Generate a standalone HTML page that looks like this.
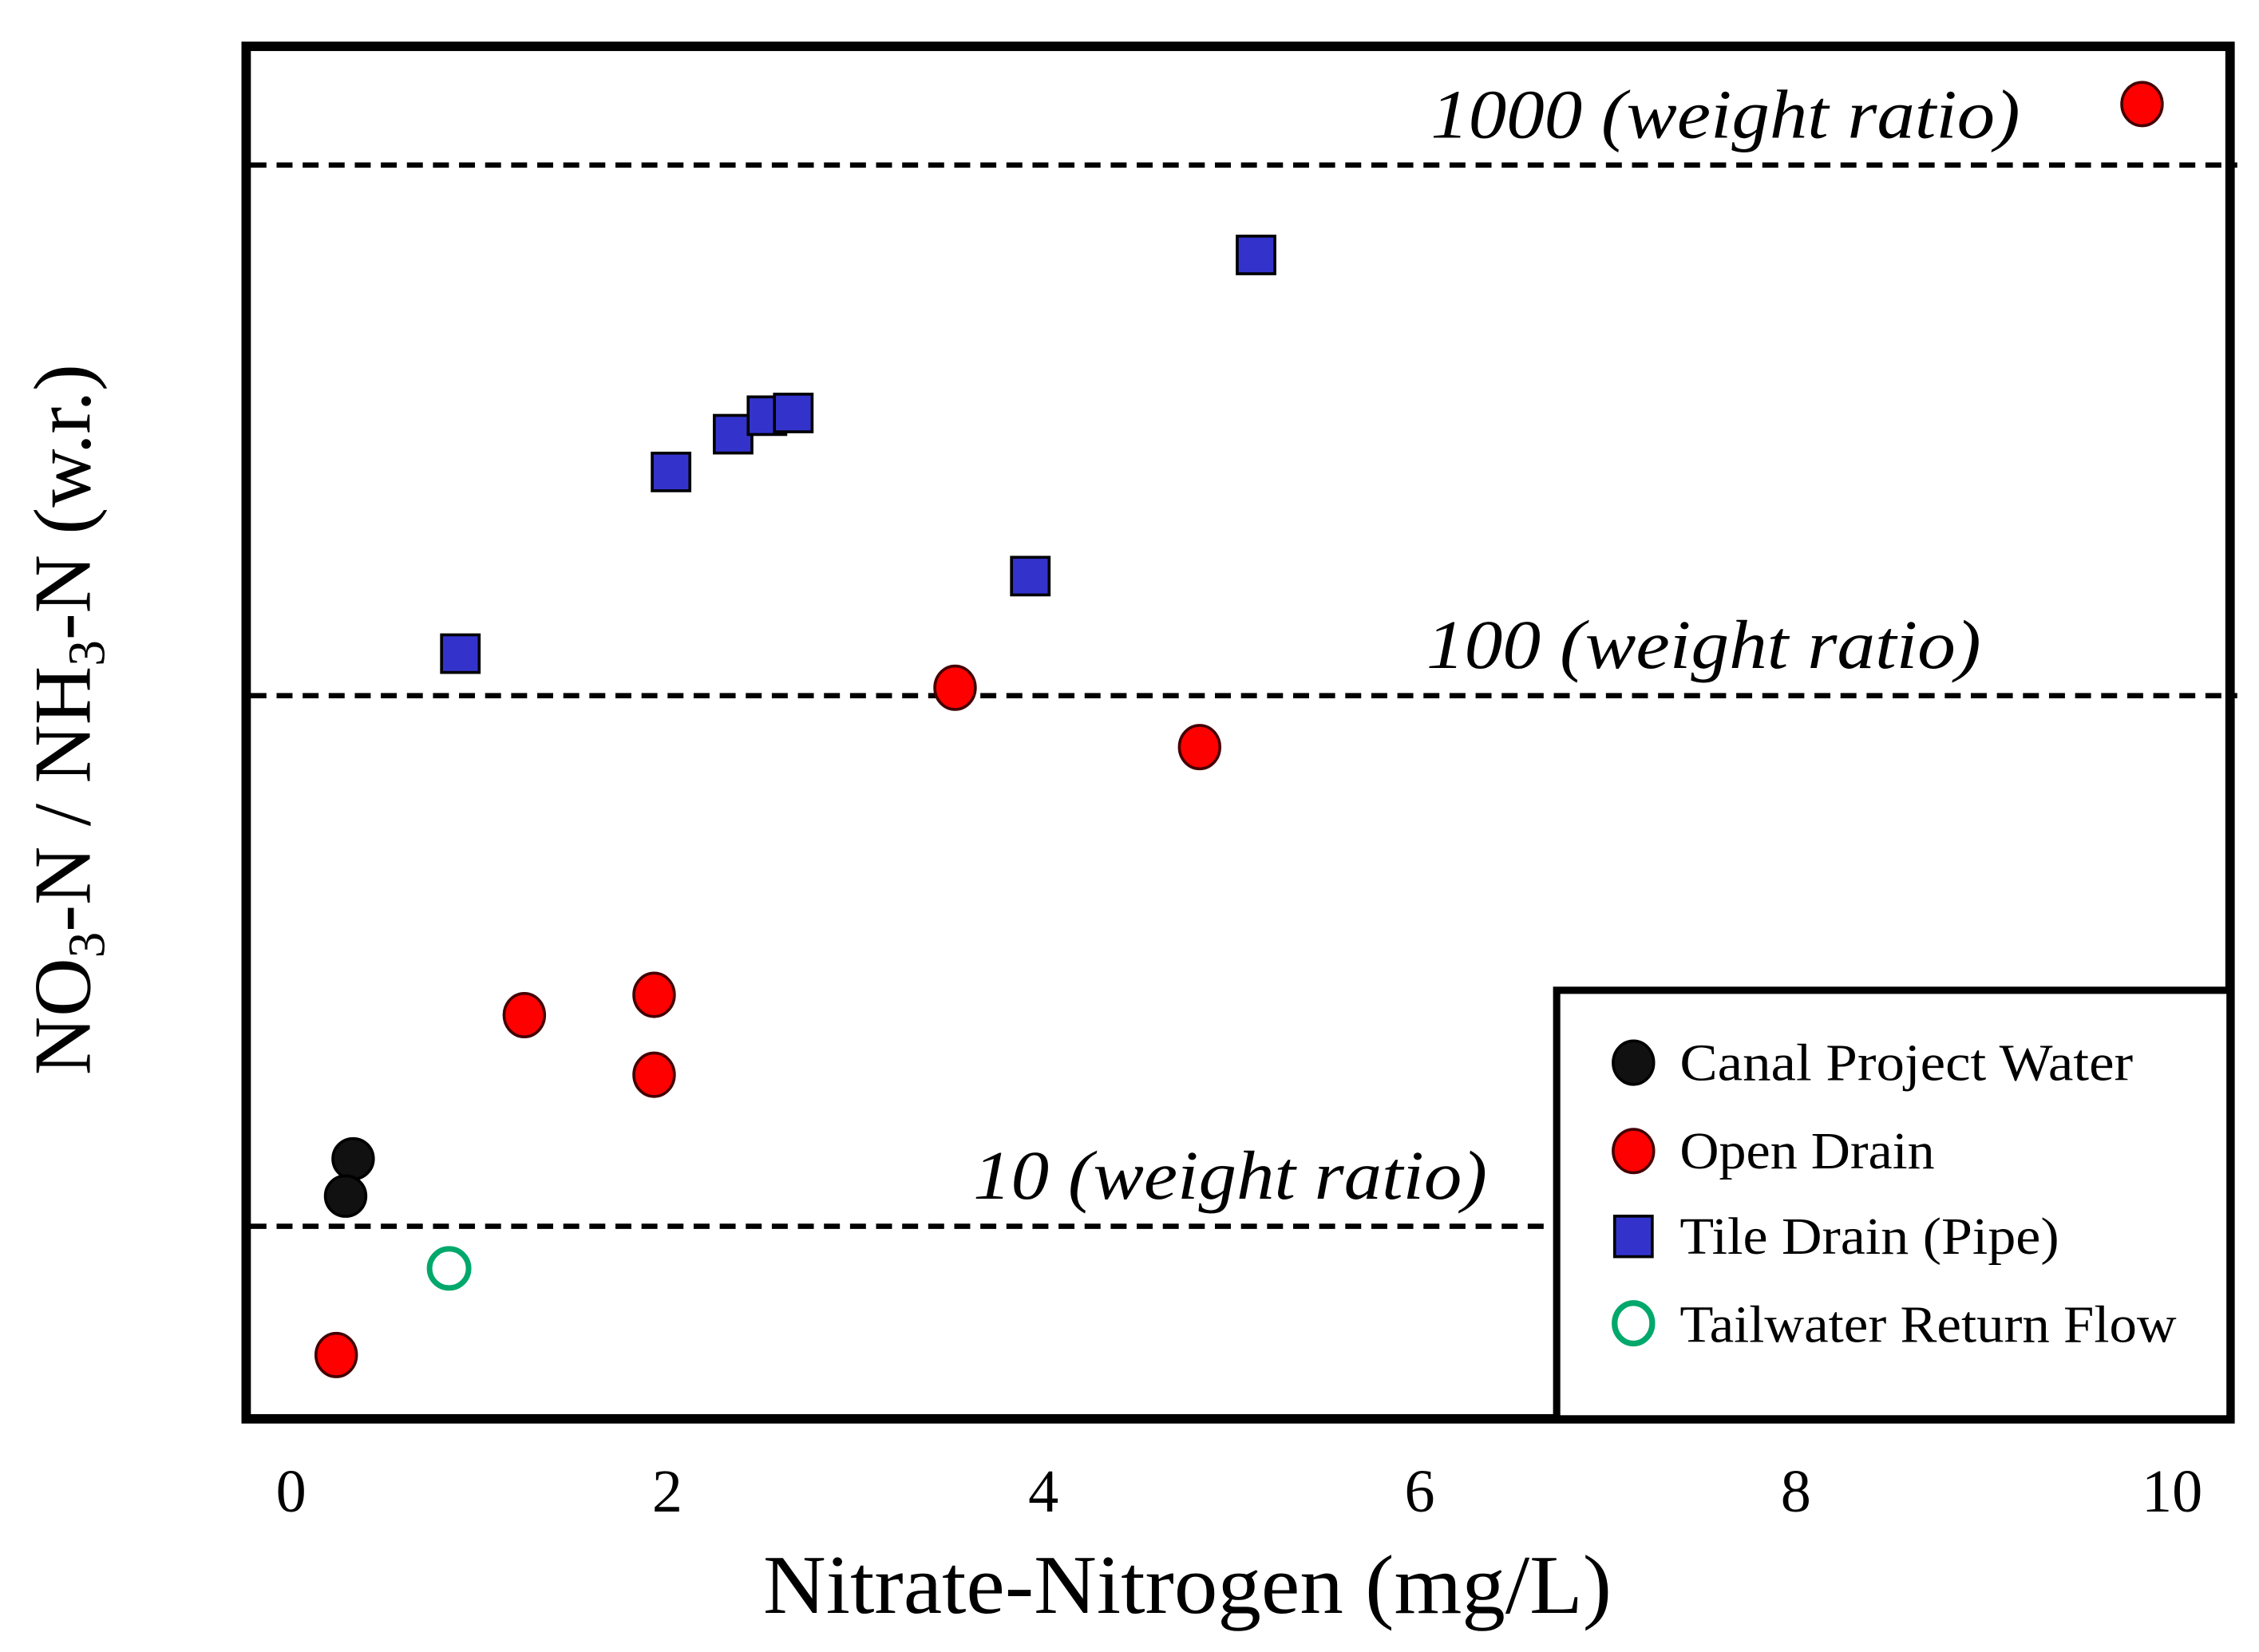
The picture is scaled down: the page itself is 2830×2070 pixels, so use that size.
<!DOCTYPE html>
<html><head><meta charset="utf-8"><style>
html,body{margin:0;padding:0;background:#fff;}
svg{display:block;}
text{font-family:"Liberation Serif",serif;fill:#000;}
</style></head><body>
<svg id="chart" width="2830" height="2070" viewBox="0 0 1560 1141.05" preserveAspectRatio="none" xmlns="http://www.w3.org/2000/svg">
<rect x="0" y="0" width="1560" height="1141.05" fill="#fff"/>
<g id="refs"></g>
<g id="marks"></g>
<rect x="170" y="32" width="1370" height="948" fill="none" stroke="#000" stroke-width="6.5"/>
<g>
<rect x="1075" y="684" width="465" height="296" fill="#fff" stroke="#000" stroke-width="5"/>
<ellipse cx="1128" cy="734" rx="14" ry="15" fill="#111" stroke="#000" stroke-width="2"/>
<text x="1160" y="746" font-size="36" textLength="313" lengthAdjust="spacingAndGlyphs">Canal Project Water</text>
<ellipse cx="1128" cy="795" rx="14" ry="15" fill="#f00" stroke="#400" stroke-width="2"/>
<text x="1160" y="807" font-size="36" textLength="176" lengthAdjust="spacingAndGlyphs">Open Drain</text>
<rect x="1115" y="840" width="26" height="28" fill="#3333cc" stroke="#000" stroke-width="2"/>
<text x="1160" y="866" font-size="36" textLength="262" lengthAdjust="spacingAndGlyphs">Tile Drain (Pipe)</text>
<ellipse cx="1128" cy="914" rx="13" ry="14" fill="none" stroke="#00a86b" stroke-width="4"/>
<text x="1160" y="927" font-size="36" textLength="343" lengthAdjust="spacingAndGlyphs">Tailwater Return Flow</text>
</g>
<g id="xticks"></g>
<text x="820" y="1114" font-size="58" text-anchor="middle" textLength="586" lengthAdjust="spacingAndGlyphs">Nitrate-Nitrogen (mg/L)</text>
<text transform="translate(62,497) rotate(-90)" font-size="56" text-anchor="middle">NO<tspan font-size="36" dy="10">3</tspan><tspan dy="-10">-N / NH</tspan><tspan font-size="36" dy="10">3</tspan><tspan dy="-10">-N (w.r.)</tspan></text>
</svg>
<script>
const xTicks = [0, 2, 4, 6, 8, 10];
const refValues = [1000, 100, 10];
const refLabels = ["1000 (weight ratio)", "100 (weight ratio)", "10 (weight ratio)"];
const openDrainX = [9.84, 3.53, 4.83, 1.24, 1.93, 1.93, 0.24];
const openDrainY = [1303, 103.5, 80.0, 25.0, 27.3, 19.3, 5.72];
const tileDrainX = [5.13, 2.02, 2.35, 2.53, 2.67, 3.93, 0.90];
const tileDrainY = [677, 264, 311, 337, 341, 168, 120];
const canalX = [0.33, 0.29];
const canalY = [13.4, 11.4];
const tailX = [0.84];
const tailY = [8.33];

const NS = "http://www.w3.org/2000/svg";
function xs(v){ return 201 + v * 129.9; }
function ys(v){ return 847 - (Math.log10(v) - 1) * 366.5; }
function mk(tag, attrs, parent){
  const e = document.createElementNS(NS, tag);
  for (const k in attrs) e.setAttribute(k, attrs[k]);
  parent.appendChild(e);
  return e;
}
const refs = document.getElementById('refs');
const marks = document.getElementById('marks');
const xt = document.getElementById('xticks');
const labelRight = [1395, 1368, 1027];
const labelW = [407, 383, 355];
refValues.forEach((v, i) => {
  const y = ys(v);
  const x2 = v === 10 ? 1073 : 1545;
  const l = mk('line', {x1:173, x2:x2, y1:y, y2:y, stroke:'#000', 'stroke-width':3.7, 'stroke-dasharray':'11,7'}, refs);
  
  
  const t = mk('text', {x: labelRight[i], y: y - 19, 'font-size': 48, 'font-style':'italic', 'text-anchor':'end', textLength: labelW[i], lengthAdjust:'spacingAndGlyphs'}, refs);
  t.textContent = refLabels[i];
  
  
});
xTicks.forEach(v => {
  const t = mk('text', {x: xs(v), y: 1044, 'font-size': 42, 'text-anchor':'middle'}, xt);
  t.textContent = String(v);
  
  
});
openDrainX.forEach((v, i) => {
  const c = mk('ellipse', {cx: xs(v), cy: ys(openDrainY[i]), rx: 14, ry: 15, fill:'#f00', stroke:'#400', 'stroke-width':2}, marks);
  
  
});
tileDrainX.forEach((v, i) => {
  const r = mk('rect', {x: xs(v) - 13, y: ys(tileDrainY[i]) - 13, width: 26, height: 26, fill:'#3333cc', stroke:'#000', 'stroke-width':2}, marks);
  
  
});
canalX.forEach((v, i) => {
  const c = mk('ellipse', {cx: xs(v), cy: ys(canalY[i]), rx: 14, ry: 14, fill:'#111', stroke:'#000', 'stroke-width':2}, marks);
  
  
});
tailX.forEach((v, i) => {
  const c = mk('ellipse', {cx: xs(v), cy: ys(tailY[i]), rx: 13.5, ry: 13.5, fill:'none', stroke:'#00a86b', 'stroke-width':3.8}, marks);
  
  
});
</script>
</body></html>
